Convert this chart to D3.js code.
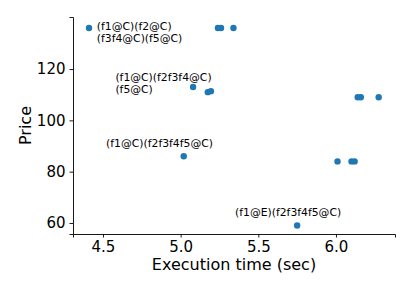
<!DOCTYPE html>
<html>
<head>
<meta charset="utf-8">
<script src="https://cdn.jsdelivr.net/npm/d3@7"></script>
<style>
  body { margin: 0; background: #fff; }
  text { font-family: "DejaVu Sans", sans-serif; }
</style>
</head>
<body>
<div id="chart"></div>
<script>
// execution time (sec) and price for each configuration
const execTime = [4.41, 5.24, 5.26, 5.34, 5.08, 5.175, 5.195, 5.02, 5.75, 6.01, 6.10, 6.12, 6.14, 6.16, 6.275];
const price    = [136, 136, 136, 136, 113, 111, 111.4, 86, 59, 84, 84, 84, 109, 109, 109];

const xTicks = [4.5, 5.0, 5.5, 6.0];
const yTicks = [60, 80, 100, 120];

// annotation text (lines) and where it sits in data space
const noteLines = [
  ["(f1@C)(f2@C)", "(f3f4@C)(f5@C)"],
  ["(f1@C)(f2f3f4@C)", "(f5@C)"],
  ["(f1@C)(f2f3f4f5@C)"],
  ["(f1@E)(f2f3f4f5@C)"]
];
const noteX = [4.46, 4.58, 4.52, 5.35];
const noteY = [135.2, 115.3, 89.6, 62.7];

const W = 415, H = 290;
const margin = { top: 17, right: 20, bottom: 56, left: 73 };
const width = W - margin.left - margin.right;
const height = H - margin.top - margin.bottom;

const svg = d3.select("#chart").append("svg")
  .attr("width", W)
  .attr("height", H);

const g = svg.append("g")
  .attr("transform", "translate(" + margin.left + "," + margin.top + ")");

const x = d3.scaleLinear().domain([4.307, 6.38]).range([0, width]);
const y = d3.scaleLinear().domain([55.7, 140.3]).range([height, 0]);

// axes
const xAxis = g.append("g")
  .attr("transform", "translate(0," + height + ")")
  .call(d3.axisBottom(x).tickValues(xTicks).tickFormat(d3.format(".1f")).tickSizeOuter(0).tickSize(3.5).tickPadding(4));

const yAxis = g.append("g")
  .call(d3.axisLeft(y).tickValues(yTicks).tickFormat(d3.format("d")).tickSizeOuter(0).tickSize(3.5).tickPadding(4));

[xAxis, yAxis].forEach(a => {
  a.selectAll("text").style("font-size", "15px").attr("fill", "#000");
  a.select(".domain").attr("stroke", "#000").attr("stroke-width", 0.9);
  a.selectAll(".tick line").attr("stroke", "#000").attr("stroke-width", 0.9);
});

// axis labels
svg.append("text")
  .attr("x", margin.left + width / 2)
  .attr("y", 270)
  .attr("text-anchor", "middle")
  .style("font-size", "16px")
  .text("Execution time (sec)");

svg.append("text")
  .attr("transform", "translate(31," + (margin.top + height / 2) + ") rotate(-90)")
  .attr("text-anchor", "middle")
  .style("font-size", "16px")
  .text("Price");

// points
g.selectAll("circle")
  .data(execTime.map((t, i) => [t, price[i]]))
  .enter()
  .append("circle")
  .attr("cx", d => x(d[0]))
  .attr("cy", d => y(d[1]))
  .attr("r", 3.2)
  .attr("fill", "#1f77b4");

// annotations
noteLines.forEach((lines, i) => {
  const t = g.append("text")
    .attr("x", x(noteX[i]))
    .attr("y", y(noteY[i]))
    .style("font-size", "10.8px")
    .attr("fill", "#000");
  lines.forEach((s, j) => {
    t.append("tspan")
      .attr("x", x(noteX[i]))
      .attr("dy", j === 0 ? 0 : 12)
      .text(s);
  });
});
</script>
</body>
</html>
